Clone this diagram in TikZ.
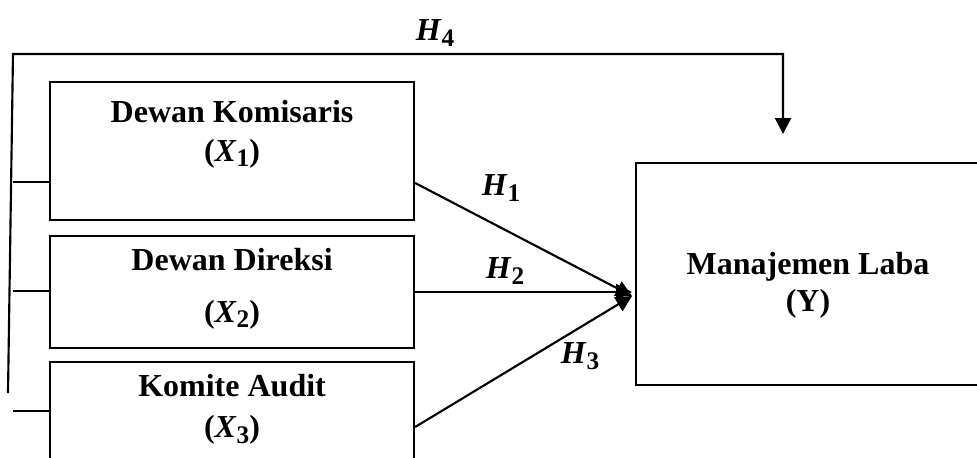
\documentclass[tikz,border=0pt]{standalone}
\usepackage{fontspec}
\setmainfont{Liberation Serif}
\usetikzlibrary{arrows.meta,positioning}
\tikzset{
  basebox/.style={draw=black,fill=white,line width=1.6pt,inner sep=0pt},
  varbox/.style={basebox,minimum width=273pt},
  ttl/.style={align=center,inner sep=0pt,font=\fontsize{24}{28}\selectfont\bfseries},
  hyp/.style={inner sep=0pt,font=\fontsize{24}{28}\selectfont\bfseries},
  arrow/.style={-{Triangle[length=12pt,width=12pt]},line width=1.6pt},
  wire/.style={line width=1.6pt}
}
\newcommand{\hvar}[2]{\textit{#1}\raisebox{-4pt}{\fontsize{19}{19}\selectfont #2}}

\begin{document}
\begin{tikzpicture}[x=0.75pt,y=-0.75pt]
  \useasboundingbox (0,0) rectangle (977,457);
  \clip (0,0) rectangle (977,457);

  \node[varbox,anchor=north west,minimum height=103.5pt] (dk) at (49,81) {};
  \node[varbox,below=10.5pt of dk,minimum height=84pt] (dd) {};
  \node[varbox,below=9pt of dd,minimum height=97.5pt] (ka) {};
  \node[basebox,anchor=north west,minimum width=270pt,minimum height=166.5pt] (ml) at (635,162) {};

  \node[ttl,anchor=north] (dkt) at (dk.north |- 0,100) {Dewan Komisaris\\[1pt](\hvar{X}{1})};
  \node[ttl,anchor=north] (ddt) at (dd.north |- 0,248) {Dewan Direksi\\[11pt](\hvar{X}{2})};
  \node[ttl,anchor=north] (kat) at (ka.north |- 0,374) {Komite Audit\\[3pt](\hvar{X}{3})};
  \node[ttl,anchor=north] (mlt) at (808,252) {Manajemen Laba\\(Y)};

  \coordinate (bt) at (13,54);
  \coordinate (bb) at (8,393);
  \coordinate (h4) at (783,134);
  \coordinate (cv) at (632,296);

  \draw[arrow] (bb) -- (bt) -- (h4 |- bt) -- (h4);
  \foreach \n/\y in {dk/182,dd/291,ka/411}
    \draw[wire] (bt |- 0,\y) -- (\n.west |- 0,\y);

  \draw[arrow] (dk.east |- 0,183) -- (cv);
  \draw[arrow] (dd.east |- 0,292) -- (cv |- 0,292);
  \draw[arrow] (ka.east |- 0,427) -- (cv);

  \node[hyp] (h4l) at (435,33) {\hvar{H}{4}};
  \node[hyp] (h1l) at (501,188) {\hvar{H}{1}};
  \node[hyp] (h2l) at (505,271) {\hvar{H}{2}};
  \node[hyp] (h3l) at (580,356) {\hvar{H}{3}};
\end{tikzpicture}
\end{document}
